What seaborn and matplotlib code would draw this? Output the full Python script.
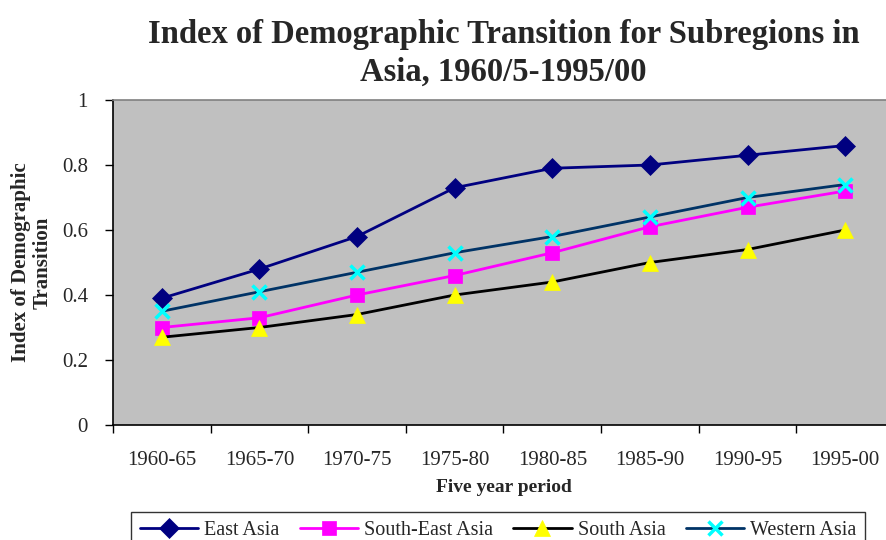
import pandas as pd
import matplotlib.pyplot as plt
import seaborn as sns

periods = ["1960-65", "1965-70", "1970-75", "1975-80", "1980-85", "1985-90", "1990-95", "1995-00"]
east_asia = [0.39, 0.48, 0.58, 0.73, 0.79, 0.80, 0.83, 0.86]
south_east_asia = [0.30, 0.33, 0.40, 0.46, 0.53, 0.61, 0.67, 0.72]
south_asia = [0.27, 0.30, 0.34, 0.40, 0.44, 0.50, 0.54, 0.60]
western_asia = [0.35, 0.41, 0.47, 0.53, 0.58, 0.64, 0.70, 0.74]

# name, values, line colour, marker, marker colour, marker size
series = [
    ("East Asia", east_asia, "#000080", "D", "#000080", 10),
    ("South-East Asia", south_east_asia, "#FF00FF", "s", "#FF00FF", 10),
    ("South Asia", south_asia, "#000000", "^", "#FFFF00", 12),
    ("Western Asia", western_asia, "#003366", "x", "#00FFFF", 10),
]

sns.set_style("white")
plt.rcParams['font.family'] = ['Liberation Serif', 'DejaVu Serif']

W, H = 886, 540
fig = plt.figure(figsize=(W / 100, H / 100), dpi=100)
ax = fig.add_axes([113 / W, 1 - 425 / H, (894 - 113) / W, (425 - 100) / H])
ax.set_facecolor("#C0C0C0")

for name, vals, lc, mk, mc, ms in series:
    df = pd.DataFrame({"period": periods, "value": vals})
    sns.lineplot(data=df, x="period", y="value", ax=ax, color=lc, linewidth=2.0,
                 marker=mk, markersize=ms,
                 markerfacecolor=mc, markeredgecolor=mc,
                 markeredgewidth=2.5 if mk == "x" else 0.5,
                 label=name, clip_on=False)

ax.set_xlim(-0.5, 7.5)
ax.set_ylim(0, 1)
ax.set_yticks([0, 0.2, 0.4, 0.6, 0.8, 1])
ax.set_yticklabels(["0", "0.2", "0.4", "0.6", "0.8", "1"])

# category boundaries as major ticks, labels on minor ticks at centers
ax.set_xticks([i - 0.5 for i in range(9)])
ax.set_xticklabels([])
ax.set_xticks(range(len(periods)), minor=True)
ax.set_xticklabels(periods, minor=True)
ax.tick_params(axis="x", which="major", direction="out", length=6, width=1, color="black", bottom=True)
ax.tick_params(axis="x", which="minor", length=0, pad=19, labelsize=15)
ax.tick_params(axis="y", direction="out", length=6, width=1, color="black", pad=12, labelsize=15, left=True)

for side in ["left", "bottom"]:
    ax.spines[side].set_color("black")
    ax.spines[side].set_linewidth(1.2)
ax.spines["top"].set_color("#808080")
ax.spines["top"].set_linewidth(1.2)
ax.spines["right"].set_visible(False)

ax.set_xlabel("Five year period", fontsize=14, fontweight="bold", labelpad=6)
ax.set_ylabel("Index of Demographic\nTransition", fontsize=15, fontweight="bold", labelpad=7,
              linespacing=1.05)
ax.set_title("Index of Demographic Transition for Subregions in\nAsia, 1960/5-1995/00",
             fontsize=23.5, fontweight="bold", pad=14, linespacing=1.27)

handles, labels = ax.get_legend_handles_labels()
ax.get_legend().remove()
leg = fig.legend(handles, labels, loc="upper center", bbox_to_anchor=(498 / W, 1 - 512 / H),
                 ncol=4, fontsize=14.5, frameon=True, fancybox=False, edgecolor="black",
                 handlelength=2.9, handletextpad=0.3, columnspacing=1.0, borderpad=0.45,
                 borderaxespad=0)
leg.get_frame().set_linewidth(1.0)

fig.savefig("out.png", dpi=100)
